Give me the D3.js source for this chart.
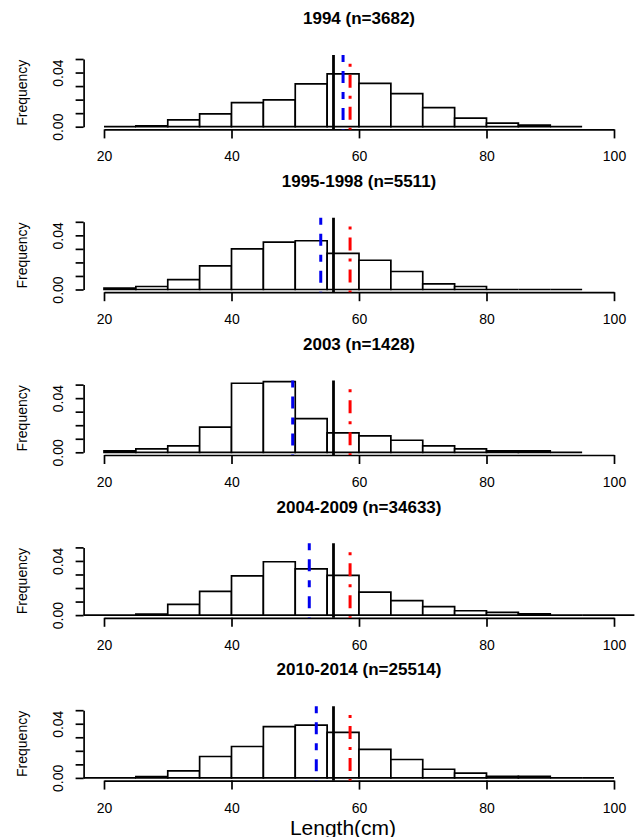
<!DOCTYPE html>
<html><head><meta charset="utf-8">
<script src="https://cdn.jsdelivr.net/npm/d3@7/dist/d3.min.js"></script>
<style>body{margin:0;background:#fff} text{font-family:"Liberation Sans",Arial,sans-serif;fill:#000}</style>
</head><body><svg id="c" width="640" height="837"></svg>
<script>
// ---- data ----
const titles = ["1994 (n=3682)", "1995-1998 (n=5511)", "2003 (n=1428)", "2004-2009 (n=34633)", "2010-2014 (n=25514)"];
const binStarts = [20, 20, 20, 15, 15];
const binWidth = 5;
const dens1994 = [0, 0.0007, 0.005, 0.0094, 0.0178, 0.0198, 0.0317, 0.039, 0.032, 0.0245, 0.0141, 0.0064, 0.0027, 0.0012, 0];
const dens9598 = [0.001, 0.0022, 0.0073, 0.0175, 0.030, 0.035, 0.036, 0.0267, 0.0216, 0.0133, 0.0041, 0.0022, 0, 0, 0];
const dens2003 = [0.001, 0.0025, 0.0047, 0.0186, 0.051, 0.0522, 0.0248, 0.0144, 0.0121, 0.0089, 0.0047, 0.0025, 0.001, 0.001, 0];
const dens0409 = [0, 0, 0.0007, 0.0079, 0.0175, 0.029, 0.0394, 0.0342, 0.0293, 0.0169, 0.0107, 0.0062, 0.0032, 0.002, 0.001, 0, 0, 0, 0];
const dens1014 = [0, 0, 0.001, 0.0052, 0.0158, 0.0232, 0.0378, 0.039, 0.0336, 0.021, 0.0136, 0.0064, 0.0035, 0.0012, 0.0012, 0, 0];
const densities = [dens1994, dens9598, dens2003, dens0409, dens1014];
const blueLines = [57.5, 54.0, 49.6, 52.2, 53.3];
const blackLine = 56;
const redLine = 58.6;
const xTicks = [20, 40, 60, 80, 100];
const yTicks = [0, 0.01, 0.02, 0.03, 0.04, 0.05];
const yLabelled = [0, 0.04];
const xLabel = "Length(cm)";
const yLabel = "Frequency";

// ---- layout ----
const svg = d3.select("#c");
const x = d3.scaleLinear().domain([20, 100]).range([104, 614]);
const plotL = x(16.8), plotR = x(103.2);
const fmt = d3.format(".2f");

titles.forEach((title, i) => {
  const y0 = 126.7 + i * 162.8;
  const y = d3.scaleLinear().domain([0, 0.05]).range([y0, y0 - 67.7]);
  const g = svg.append("g");
  const clipId = "clip" + i;
  svg.append("clipPath").attr("id", clipId).append("rect")
    .attr("x", plotL).attr("y", y(0.056)).attr("width", plotR - plotL).attr("height", y(-0.003) - y(0.056));

  // title
  g.append("text").attr("x", (plotL + plotR) / 2).attr("y", y0 - 108)
    .attr("text-anchor", "middle").attr("dominant-baseline", "central")
    .style("font-weight", "bold").style("font-size", "17px").text(title);

  // histogram bars
  const bars = g.append("g").attr("clip-path", `url(#${clipId})`);
  densities[i].forEach((d, k) => {
    const a = binStarts[i] + k * binWidth, b = a + binWidth;
    const p = d3.path();
    p.moveTo(x(a), y(0)); p.lineTo(x(a), y(d)); p.lineTo(x(b), y(d)); p.lineTo(x(b), y(0)); p.closePath();
    bars.append("path").attr("d", p.toString()).attr("fill", "#fff").attr("stroke", "#000").attr("stroke-width", 1.7);
  });

  // x axis
  const xa = g.append("g").attr("transform", `translate(0,${y0 + 2.7})`)
    .call(d3.axisBottom(x).tickValues(xTicks).tickSize(9).tickSizeOuter(0).tickPadding(13));
  xa.selectAll("path,line").attr("stroke", "#000").attr("stroke-width", 1.7);
  xa.selectAll("text").style("font-size", "14px").attr("fill", "#000");

  // y axis
  const ya = g.append("g").attr("transform", `translate(${plotL},0)`)
    .call(d3.axisLeft(y).tickValues(yTicks).tickSize(8).tickSizeOuter(0)
      .tickFormat(d => yLabelled.some(v => Math.abs(v - d) < 1e-9) ? fmt(d) : ""));
  ya.selectAll("path,line").attr("stroke", "#000").attr("stroke-width", 1.7);
  ya.selectAll("text").attr("x", null).attr("dy", null).attr("y", null)
    .attr("transform", "translate(-26,0) rotate(-90)")
    .attr("text-anchor", "middle").attr("dominant-baseline", "central")
    .style("font-size", "14px").attr("fill", "#000");

  // y label
  g.append("text").attr("transform", `translate(22,${y0 - 34}) rotate(-90)`)
    .attr("text-anchor", "middle").attr("dominant-baseline", "central")
    .style("font-size", "14px").text(yLabel);

  // reference lines
  const lines = g.append("g").attr("clip-path", `url(#${clipId})`);
  lines.append("line").attr("x1", x(blackLine)).attr("x2", x(blackLine))
    .attr("y1", y(-0.002)).attr("y2", y(0.053)).attr("stroke", "#000").attr("stroke-width", 2.8);
  lines.append("line").attr("x1", x(blueLines[i])).attr("x2", x(blueLines[i]))
    .attr("y1", y(0.053)).attr("y2", y(-0.002)).attr("stroke", "#0000ee").attr("stroke-width", 3)
    .attr("stroke-dasharray", "7,9,12,9");
  lines.append("line").attr("x1", x(redLine)).attr("x2", x(redLine))
    .attr("y1", y(0.0465)).attr("y2", y(-0.002)).attr("stroke", "#ff0000").attr("stroke-width", 3)
    .attr("stroke-dasharray", "3,8,13,8");
});

svg.append("text").attr("x", 343).attr("y", 827).attr("text-anchor", "middle")
  .attr("dominant-baseline", "central").style("font-size", "21px").text(xLabel);
</script></body></html>
